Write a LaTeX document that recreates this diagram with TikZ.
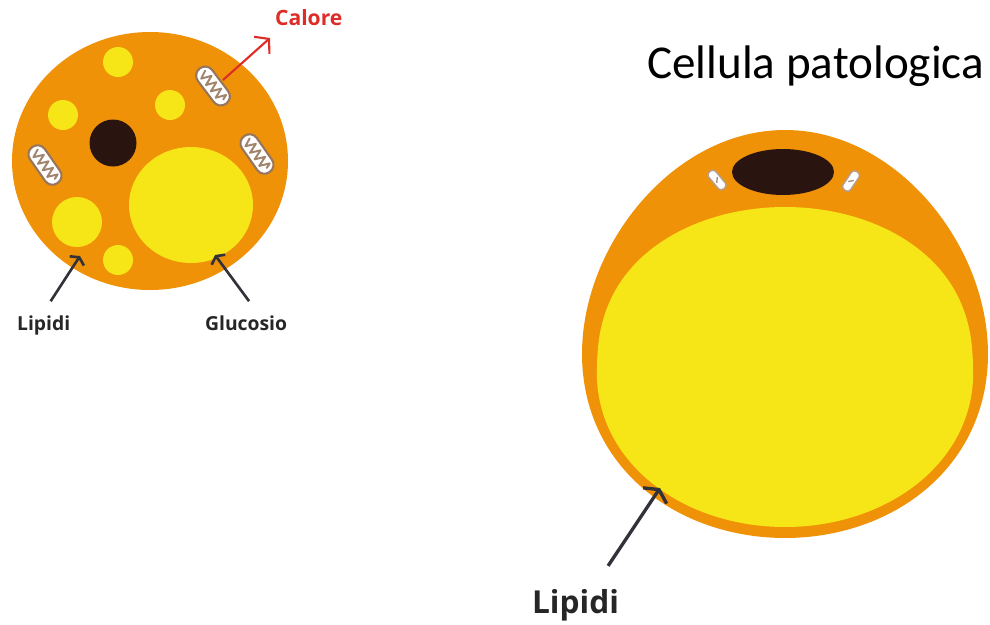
\documentclass[tikz,border=0pt]{standalone}
\usepackage{fontspec}
\setmainfont{Carlito}
\newfontfamily\tagfont{Open Sans}
\usetikzlibrary{arrows.meta,calc}
\definecolor{peel}{RGB}{240,146,8}
\definecolor{fat}{RGB}{246,230,24}
\definecolor{core}{RGB}{42,20,16}
\definecolor{heat}{RGB}{222,44,40}
\definecolor{ink}{RGB}{50,50,56}
\definecolor{crista}{RGB}{150,118,92}
\tikzset{
  pointer/.style={-{Straight Barb[angle=125:#1]},line width=1.5pt,draw=ink},
  pointer/.default=1.9mm,
  tag/.style={font=\tagfont\bfseries\fontsize{#1}{#1}\selectfont,text=black!85,inner sep=1pt},
  tag/.default=11,
  % organelles
  pics/mito/.style={code={
    \fill[white,draw=crista,line width=1.2pt,rounded corners=5pt] (-22,-9) rectangle (22,9);
    \draw[crista!90,line width=1.1pt,line join=round,line cap=round]
      (-17,-3) -- (-13,5) -- (-9,-5) -- (-5,5) -- (-1,-5) -- (3,5) -- (7,-5) -- (11,5) -- (15,-5) -- (17,0);
  }},
  pics/mitosmall/.style={code={
    \fill[white,draw=crista!70,line width=0.8pt,rounded corners=2pt] (-11,-4.5) rectangle (11,4.5);
    \draw[crista!80,line width=0.8pt] (-2,-2) -- (2,2);
  }},
}
\begin{document}
\begin{tikzpicture}[x=0.2mm,y=-0.2mm]
  \useasboundingbox (0,0) rectangle (990,624);
  \fill[white] (0,0) rectangle (990,624);

  % healthy cell
  \fill[peel] (150,161) ellipse [x radius=138, y radius=129];
  \foreach \x/\y/\r in {118/62/15, 63/115/15, 170/105/15, 118/260/15, 77/222/25}
    \fill[fat] (\x,\y) circle [radius=\r];
  \fill[fat] (191,205) ellipse [x radius=62, y radius=58];
  \fill[core] (113,143) circle [radius=23.5];
  \pic[rotate=-53] at (213,86) {mito};
  \pic[rotate=-55] at (45,165) {mito};
  \pic[rotate=-55] at (257,154) {mito};

  \node[tag=12,text=heat,anchor=base west] (calore) at (273,25) {Calore};
  \node[tag,anchor=base west] (lipA) at (15,330) {Lipidi};
  \node[tag,anchor=base west] (gluc) at (203,330) {Glucosio};
  \coordinate (heatsrc) at (223,80);
  \coordinate (heattip) at (270,38);
  \coordinate (lipAtip) at (80,256);
  \coordinate (gluctip) at (215,255);
  \draw[-{Straight Barb[angle=100:3mm]},line width=1.2pt,draw=heat] (heatsrc) -- (heattip);
  \draw[pointer] ([shift={(7,-12)}]lipA.north) -- (lipAtip);
  \draw[pointer] ([shift={(3,-12)}]gluc.north) -- (gluctip);

  % pathological cell: egg-shaped membrane, flat-topped fat droplet
  \node[anchor=base west,inner sep=0pt,font=\fontsize{26.8}{32}\selectfont] (title) at (647,78) {Cellula patologica};
  \fill[peel] plot[domain=1.5:361.5,samples=121,smooth]
    ({785+202*cos(\x)*(1+0.1*sin(\x))},{334+204*sin(\x)}) -- cycle;
  \fill[fat] plot[domain=1.5:361.5,samples=121,smooth]
    ({785+188*cos(\x)*(1+0.04*sin(\x))},{367+160*ifthenelse(sin(\x)<0,-abs(sin(\x))^0.8,sin(\x))}) -- cycle;
  \fill[core] (783,172) ellipse [x radius=51, y radius=23];
  \pic[rotate=-50] at (717,180) {mitosmall};
  \pic[rotate=56] at (851,181) {mitosmall};

  \node[tag=18,anchor=base west] (lipB) at (530,613) {Lipidi};
  \coordinate (lipBtip) at (660,488);
  \draw[pointer=3.2mm,line width=1.9pt] ([shift={(-13,-21)}]lipB.north east) -- (lipBtip);
\end{tikzpicture}
\end{document}
